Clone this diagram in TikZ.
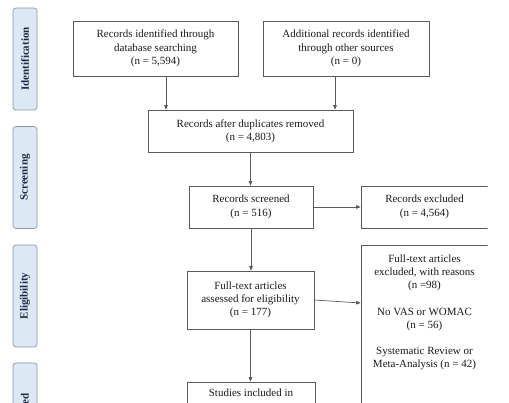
\documentclass[tikz,border=0pt]{standalone}
\usepackage{fontspec}
\setmainfont{Liberation Serif}
\usetikzlibrary{arrows.meta}
\definecolor{boxline}{HTML}{5A5A5A}
\definecolor{txt}{HTML}{1A1A1A}
\definecolor{phfill}{HTML}{DCE8F4}
\definecolor{phline}{HTML}{8A96A3}
\definecolor{phtxt}{HTML}{1C2B45}
\begin{document}
\begin{tikzpicture}[x=1pt,y=-1pt,
 box/.style={draw=boxline, line width=0.7pt, align=center, inner sep=0pt, font=\fontsize{11}{13.3}\selectfont, text=txt},
 lbl/.style={align=center, inner sep=0pt, font=\fontsize{11}{13.2}\selectfont, text=txt},
 phase/.style={draw=phline, fill=phfill, rounded corners=3pt, line width=0.7pt, rotate=90, minimum width=102pt, minimum height=24pt, inner sep=0pt, font=\fontsize{11}{13}\selectfont\bfseries, text=phtxt},
 arr/.style={draw=boxline, line width=0.7pt, -{Triangle[length=4.5pt,width=3.5pt]}}
]
\useasboundingbox (0,0) rectangle (509,403);
\fill[white] (0,0) rectangle (509,403);
\begin{scope}
\clip (0,0) rectangle (487.5,403);
% phase labels
\node[phase] (p1) at (25,59) {Identification};
\node[phase] (p2) at (25,177.5) {Screening};
\node[phase] (p3) at (25,296) {Eligibility};
\node[phase] (p4) at (25,414) {Included};
% boxes
\node[box, minimum width=165pt, minimum height=55pt] (b1) at (155.5,48.5) {Records identified through\\ database searching\\ (n = 5,594)};
\node[box, minimum width=166pt, minimum height=55pt] (b2) at (346,48.5) {Additional records identified\\ through other sources\\ (n = 0)};
\node[box, minimum width=205pt, minimum height=42pt] (b3) at (250.5,131) {Records after duplicates removed\\ (n = 4,803)};
\node[box, minimum width=124pt, minimum height=42pt] (b4) at (251,207) {Records screened\\ (n = 516)};
\node[box, minimum width=127pt, minimum height=42pt] (b5) at (424.5,207) {Records excluded\\ (n = 4,564)};
\node[box, minimum width=127pt, minimum height=58pt] (b6) at (250.5,300) {Full-text articles\\ assessed for eligibility\\ (n = 177)};
\node[box, minimum width=127pt, minimum height=300pt] (b7) at (424.5,395) {};
\node[lbl, anchor=north] (b7t) at (424.5,254.5) {Full-text articles\\ excluded, with reasons\\ (n =98)\\[13.2pt] No VAS or WOMAC\\ (n = 56)\\[13.2pt] Systematic Review or\\ Meta-Analysis (n = 42)};
\node[box, minimum width=128pt, minimum height=55pt] (b8) at (251,409.5) {};
\node[lbl, anchor=north] (b8t) at (251,388.5) {Studies included in};
% arrows
\draw[arr] ([xshift=10.5pt]b1.south) -- ([xshift=10.5pt]b1.south |- b3.north);
\draw[arr] ([xshift=-11pt]b2.south) -- ([xshift=-11pt]b2.south |- b3.north);
\draw[arr] (b3.south) -- (b3.south |- b4.north);
\draw[arr] (b4.east) -- (b4.east -| b5.west);
\draw[arr] (b4.south) -- (b4.south |- b6.north);
\draw[arr] (b6.east) -- ([yshift=-3pt]b6.east -| b7.west);
\draw[arr] (b6.south) -- (b6.south |- b8.north);
\end{scope}
\end{tikzpicture}
\end{document}
